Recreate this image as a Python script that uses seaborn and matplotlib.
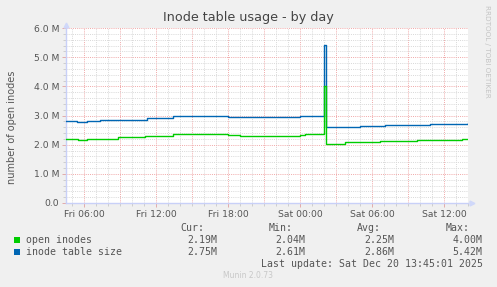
import matplotlib
matplotlib.use("Agg")
import matplotlib.pyplot as plt
from matplotlib.patches import Rectangle
import seaborn as sns
import pandas as pd

# ---------------- data ----------------
title = "Inode table usage - by day"
ylabel = "number of open inodes"

# hours since Fri 00:00
hours_open = [4.5, 5.5, 6.25, 7.17, 8.83, 11.08, 12.33, 13.42, 15.08, 18.0, 19.0,
              24.0, 24.42, 26.0, 26.17, 27.75, 30.67, 33.75, 37.5, 38.0]
open_inodes = [2.18, 2.16, 2.18, 2.20, 2.25, 2.29, 2.30, 2.36, 2.38, 2.33, 2.30,
               2.33, 2.36, 4.00, 2.04, 2.08, 2.12, 2.15, 2.18, 2.19]

hours_table = [4.5, 5.42, 6.25, 7.33, 9.58, 11.25, 13.42, 15.25, 18.0, 20.83,
               24.0, 25.92, 26.0, 26.17, 29.0, 31.08, 34.83, 38.0]
table_size = [2.80, 2.78, 2.81, 2.83, 2.86, 2.90, 2.97, 3.00, 2.96, 2.95,
              2.98, 3.00, 5.42, 2.62, 2.65, 2.67, 2.72, 2.74]

xtick_hours = [6, 12, 18, 24, 30, 36]
xtick_labels = ["Fri 06:00", "Fri 12:00", "Fri 18:00", "Sat 00:00", "Sat 06:00", "Sat 12:00"]
ytick_values = [0.0, 1.0, 2.0, 3.0, 4.0, 5.0, 6.0]
ytick_labels = ["0.0", "1.0 M", "2.0 M", "3.0 M", "4.0 M", "5.0 M", "6.0 M"]

series_names = ["open inodes", "inode table size"]
series_colors = ["#00CC00", "#0066B3"]
stats_headers = ["Cur:", "Min:", "Avg:", "Max:"]
stats_open = ["2.19M", "2.04M", "2.25M", "4.00M"]
stats_table = ["2.75M", "2.61M", "2.86M", "5.42M"]
last_update = "Last update: Sat Dec 20 13:45:01 2025"
footer = "Munin 2.0.73"
watermark = "RRDTOOL / TOBI OETIKER"

# ---------------- figure ----------------
W, H = 497, 287
fig = plt.figure(figsize=(W / 100, H / 100), dpi=100, facecolor="#F0F0F0")
ax = fig.add_axes([66 / W, 1 - 203 / H, 402 / W, 175 / H])
ax.set_facecolor("white")

def fx(x):
    return x / W

def fy(y):
    return 1 - y / H

xmin, xmax = 4.5, 38.0
ymin, ymax = 0.0, 6.0

# grid
for h in range(5, 39):
    major = (h % 3 == 0)
    ax.axvline(h, color="#F0A8A8" if major else "#D8D8D8", lw=0.7,
               ls=(0, (1, 1.2)), zorder=0)
for i in range(0, 31):
    v = i * 0.2
    major = (i % 5 == 0)
    ax.axhline(v, color="#F0A8A8" if major else "#D8D8D8", lw=0.7,
               ls=(0, (1, 1.2)), zorder=0)

df_open = pd.DataFrame({"hour": hours_open, "value": open_inodes})
df_table = pd.DataFrame({"hour": hours_table, "value": table_size})

sns.lineplot(data=df_table, x="hour", y="value", ax=ax, color=series_colors[1],
             lw=1.0, drawstyle="steps-post", estimator=None, zorder=3)
sns.lineplot(data=df_open, x="hour", y="value", ax=ax, color=series_colors[0],
             lw=1.0, drawstyle="steps-post", estimator=None, zorder=4)

ax.set_xlim(xmin, xmax)
ax.set_ylim(ymin, ymax)
ax.set_xlabel("")
ax.set_ylabel("")

ax.set_xticks(xtick_hours)
ax.set_xticklabels(xtick_labels, fontsize=6.7, color="#555555")
ax.set_xticks(list(range(5, 39)), minor=True)
ax.set_yticks(ytick_values)
ax.set_yticklabels(ytick_labels, fontsize=6.7, color="#555555")
ax.set_yticks([i * 0.2 for i in range(31)], minor=True)
ax.tick_params(axis="both", which="major", length=3, width=0.6, color="#E0A0A0", pad=2)
ax.tick_params(axis="both", which="minor", length=2, width=0.6, color="#C8C8C8")

for s in ["top", "right"]:
    ax.spines[s].set_visible(False)
for s in ["left", "bottom"]:
    ax.spines[s].set_color("#C8D0F8")
    ax.spines[s].set_linewidth(1.0)

# axis arrows
ax.plot([0], [1.02], marker="^", ms=3.5, color="#D0D8FA", transform=ax.transAxes, clip_on=False)
ax.plot([1.01], [0], marker=">", ms=3.5, color="#D0D8FA", transform=ax.transAxes, clip_on=False)

# title / labels
fig.text(fx(248), fy(18), title, ha="center", va="center", fontsize=9.2, color="#444444")
fig.text(fx(12), fy(127), ylabel, ha="center", va="center", rotation=90,
         fontsize=7.0, color="#555555")
fig.text(fx(487), fy(5), watermark, ha="center", va="top", rotation=270,
         fontsize=5.2, color="#C4C4C4")

# legend block
mono = "DejaVu Sans Mono"
fs = 7.1
tc = "#555555"
header_right = [204, 293, 381, 470]
value_right = [217, 305.7, 394, 482.7]
for hdr, xr in zip(stats_headers, header_right):
    fig.text(fx(xr), fy(228), hdr, ha="right", va="center", family=mono, fontsize=fs, color=tc)

rows = [(series_names[0], series_colors[0], stats_open, 240),
        (series_names[1], series_colors[1], stats_table, 252)]
for name, col, stats, yrow in rows:
    fig.patches.append(Rectangle((fx(14), fy(yrow + 3)), 6 / W, 6 / H,
                                 transform=fig.transFigure, facecolor=col,
                                 edgecolor="none"))
    fig.text(fx(26.3), fy(yrow), name, ha="left", va="center", family=mono,
             fontsize=fs, color=tc)
    for val, xr in zip(stats, value_right):
        fig.text(fx(xr), fy(yrow), val, ha="right", va="center", family=mono,
                 fontsize=fs, color=tc)

fig.text(fx(482.7), fy(264), last_update, ha="right", va="center", family=mono,
         fontsize=fs, color=tc)
fig.text(fx(248), fy(276), footer, ha="center", va="center", fontsize=5.5, color="#C8C8C8")

fig.savefig("out.png", dpi=100, facecolor=fig.get_facecolor())
